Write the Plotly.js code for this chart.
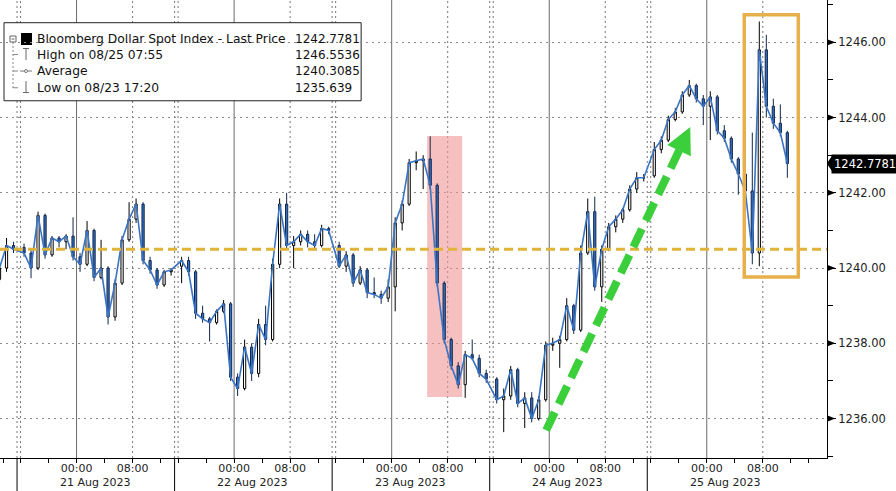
<!DOCTYPE html>
<html><head><meta charset="utf-8">
<script src="https://cdn.plot.ly/plotly-3.0.1.min.js"></script>
<style>html,body{margin:0;padding:0;background:#fff}#chart{width:896px;height:491px}</style>
</head><body><div id="chart"></div>
<script>
// ---------- DATA (hourly bars) ----------
var times = [
 '2023-08-20 11:30','2023-08-20 12:30','2023-08-20 13:30',
 '2023-08-20 16:30','2023-08-20 17:30','2023-08-20 18:30','2023-08-20 19:30','2023-08-20 20:30','2023-08-20 21:30','2023-08-20 22:30','2023-08-20 23:30',
 '2023-08-21 00:30','2023-08-21 01:30','2023-08-21 02:30','2023-08-21 03:30','2023-08-21 04:30','2023-08-21 05:30','2023-08-21 06:30','2023-08-21 07:30','2023-08-21 08:30','2023-08-21 09:30','2023-08-21 10:30','2023-08-21 11:30','2023-08-21 12:30','2023-08-21 13:30',
 '2023-08-21 16:30','2023-08-21 17:30','2023-08-21 18:30','2023-08-21 19:30','2023-08-21 20:30','2023-08-21 21:30','2023-08-21 22:30','2023-08-21 23:30',
 '2023-08-22 00:30','2023-08-22 01:30','2023-08-22 02:30','2023-08-22 03:30','2023-08-22 04:30','2023-08-22 05:30','2023-08-22 06:30','2023-08-22 07:30','2023-08-22 08:30','2023-08-22 09:30','2023-08-22 10:30','2023-08-22 11:30','2023-08-22 12:30','2023-08-22 13:30',
 '2023-08-22 16:30','2023-08-22 17:30','2023-08-22 18:30','2023-08-22 19:30','2023-08-22 20:30','2023-08-22 21:30','2023-08-22 22:30','2023-08-22 23:30',
 '2023-08-23 00:30','2023-08-23 01:30','2023-08-23 02:30','2023-08-23 03:30','2023-08-23 04:30','2023-08-23 05:30','2023-08-23 06:30','2023-08-23 07:30','2023-08-23 08:30','2023-08-23 09:30','2023-08-23 10:30','2023-08-23 11:30','2023-08-23 12:30','2023-08-23 13:30',
 '2023-08-23 16:30','2023-08-23 17:30','2023-08-23 18:30','2023-08-23 19:30','2023-08-23 20:30','2023-08-23 21:30','2023-08-23 22:30','2023-08-23 23:30',
 '2023-08-24 00:30','2023-08-24 01:30','2023-08-24 02:30','2023-08-24 03:30','2023-08-24 04:30','2023-08-24 05:30','2023-08-24 06:30','2023-08-24 07:30','2023-08-24 08:30','2023-08-24 09:30','2023-08-24 10:30','2023-08-24 11:30','2023-08-24 12:30','2023-08-24 13:30',
 '2023-08-24 16:30','2023-08-24 17:30','2023-08-24 18:30','2023-08-24 19:30','2023-08-24 20:30','2023-08-24 21:30','2023-08-24 22:30','2023-08-24 23:30',
 '2023-08-25 00:30','2023-08-25 01:30','2023-08-25 02:30','2023-08-25 03:30','2023-08-25 04:30','2023-08-25 05:30','2023-08-25 06:30','2023-08-25 07:30','2023-08-25 08:30','2023-08-25 09:30','2023-08-25 10:30','2023-08-25 11:30'
];
var opens = [
 1239.7,1240.0,1240.6,
 1240.55,1240.4,1240.0,1241.4,1240.35,1240.8,1240.7,1240.85,1240.3,1240.1,1241.0,1239.75,1240.0,1238.7,1239.6,1240.75,1241.3,1241.7,1240.2,1239.95,1239.55,1239.9,
 1240.05,1240.2,1239.9,1238.8,1238.65,1238.55,1238.85,1239.05,1237.1,1236.8,1237.9,1237.2,1238.5,1238.1,1240.1,1241.7,1240.6,1240.7,1240.9,1240.7,1240.6,1241.05,
 1240.6,1240.05,1240.35,1239.6,1239.95,1239.35,1239.3,1239.2,1239.5,1241.2,1241.7,1242.8,1242.85,1242.9,1242.2,1239.6,1238.1,1237.4,1236.9,1237.7,1237.6,1237.2,
 1237.05,1236.5,1236.6,1237.3,1236.4,1236.55,1236.0,1236.5,1237.95,1238.0,1238.1,1239.0,1238.35,1240.4,1241.5,1239.5,1240.5,1241.1,1241.3,1241.55,1242.1,1242.4,
 1242.45,1243.15,1243.4,1243.95,1244.15,1244.6,1244.85,1244.5,1244.3,1244.55,1243.65,1243.45,1242.9,1242.5,1242.05,1240.4,1245.8,1244.3,1243.85,1243.6
];
var highs = [
 1240.1,1240.8,1240.7,
 1240.65,1240.5,1241.5,1241.45,1240.85,1240.85,1240.9,1241.35,1240.4,1241.25,1241.05,1240.75,1240.05,1239.7,1240.85,1241.75,1241.85,1241.75,1240.3,1240.0,1239.95,1240.0,
 1240.3,1240.3,1239.95,1239.0,1238.7,1238.9,1239.15,1239.1,1237.2,1238.1,1238.0,1238.65,1239.0,1240.25,1241.85,1242.0,1240.85,1241.0,1241.0,1240.9,1241.15,1241.1,
 1240.7,1240.45,1240.4,1240.05,1240.0,1239.75,1239.4,1239.7,1241.35,1241.8,1242.9,1243.1,1243.0,1243.5,1242.25,1239.65,1238.15,1237.5,1237.8,1238.1,1237.7,1237.3,
 1237.1,1236.8,1237.4,1237.35,1236.7,1236.7,1236.6,1238.05,1238.15,1238.2,1239.2,1239.05,1240.6,1241.85,1241.9,1240.6,1241.2,1241.4,1241.6,1242.2,1242.55,1242.5,
 1243.35,1243.5,1244.05,1244.25,1244.7,1245.0,1244.9,1244.6,1244.7,1244.6,1243.8,1243.5,1242.95,1242.55,1243.6,1246.5536,1246.2,1244.5,1244.35,1243.65
];
var lows = [
 1239.6,1239.9,1240.4,
 1240.3,1239.73,1239.95,1240.25,1240.3,1240.55,1240.5,1240.2,1239.9,1240.05,1239.65,1239.7,1238.5,1238.6,1239.55,1240.7,1241.2,1240.1,1239.85,1239.45,1239.5,1239.8,
 1239.6,1239.8,1238.65,1238.55,1238.05,1238.5,1238.8,1237.0,1236.6,1236.75,1237.0,1237.1,1237.95,1238.05,1240.0,1240.5,1240.0,1240.6,1240.55,1240.5,1240.55,1240.9,
 1240.0,1239.9,1239.5,1239.55,1239.2,1239.2,1239.05,1239.1,1238.85,1241.0,1241.65,1242.6,1242.1,1242.1,1239.5,1238.0,1237.3,1236.8,1236.55,1237.55,1237.1,1236.95,
 1236.4,1235.639,1236.5,1236.3,1235.75,1235.9,1235.95,1236.45,1237.8,1237.35,1238.05,1238.25,1238.3,1240.35,1239.4,1239.1,1240.45,1240.95,1241.2,1241.5,1242.0,1242.3,
 1242.4,1243.05,1243.35,1243.9,1244.1,1244.55,1244.4,1243.8,1243.4,1243.55,1243.35,1242.8,1241.95,1241.75,1240.1,1240.05,1244.0,1243.7,1243.5,1242.4
];
var closes = [
 1240.0,1240.6,1240.5,
 1240.4,1240.0,1241.4,1240.35,1240.8,1240.7,1240.85,1240.3,1240.1,1241.0,1239.75,1240.0,1238.7,1239.6,1240.75,1241.3,1241.7,1240.2,1239.95,1239.55,1239.9,1239.95,
 1240.2,1239.9,1238.8,1238.65,1238.55,1238.85,1239.05,1237.1,1236.8,1237.9,1237.2,1238.5,1238.1,1240.1,1241.7,1240.6,1240.7,1240.9,1240.7,1240.6,1241.05,1241.0,
 1240.05,1240.35,1239.6,1239.95,1239.35,1239.3,1239.2,1239.5,1241.2,1241.7,1242.8,1242.85,1242.9,1242.2,1239.6,1238.1,1237.4,1236.9,1237.7,1237.6,1237.2,1237.05,
 1236.5,1236.6,1237.3,1236.4,1236.55,1236.0,1236.5,1237.95,1238.0,1238.1,1239.0,1238.35,1240.4,1241.5,1239.5,1240.5,1241.1,1241.3,1241.55,1242.1,1242.4,1242.4,
 1243.15,1243.4,1243.95,1244.15,1244.6,1244.85,1244.5,1244.3,1244.55,1243.65,1243.45,1242.9,1242.5,1242.05,1240.4,1245.8,1244.3,1243.85,1243.6,1242.7781
];
var dayDates   = ['2023-08-21','2023-08-22','2023-08-23','2023-08-24','2023-08-25'];
var dayLabels  = ['21 Aug 2023','22 Aug 2023','23 Aug 2023','24 Aug 2023','25 Aug 2023'];
var timeLabels = ['00:00','08:00'];
var sessionBreakDates = ['2023-08-20','2023-08-21','2023-08-22','2023-08-23','2023-08-24'];
var yTicks = [1236,1238,1240,1242,1244,1246];
var yTickText = ['1236.00','1238.00','1240.00','1242.00','1244.00','1246.00'];
var yMinor = [1235,1237,1239,1241,1243,1245,1247];
var legendLabels = ['Bloomberg Dollar Spot Index - Last Price','High on 08/25 07:55','Average','Low on 08/23 17:20'];
var legendValues = ['1242.7781','1246.5536','1240.3085','1235.639'];
var markedLevel = 1240.5;
var lastPrice = 1242.7781;

// ---------- geometry helpers (plot area in px) ----------
var PW = 826.7, PH = 457.7;
function px(x){ return x/PW; }
function py(y){ return 1 - y/PH; }
var FONT = 'DejaVu Sans';

var tickVals = [], tickText = [];
dayDates.forEach(function(d){ tickVals.push(d+' 00:00'); tickText.push(timeLabels[0]); tickVals.push(d+' 08:00'); tickText.push(timeLabels[1]); });

var shapes = [];
dayDates.forEach(function(d){
  shapes.push({type:'line',xref:'x',yref:'paper',x0:d+' 00:00',x1:d+' 00:00',y0:0,y1:1,layer:'between',line:{color:'#6a6a6a',width:1}});
  shapes.push({type:'line',xref:'x',yref:'paper',x0:d+' 08:00',x1:d+' 08:00',y0:0,y1:1,layer:'between',line:{color:'#777',width:1,dash:'2px,3px'}});
});
sessionBreakDates.forEach(function(d){
  ['14:00','16:00'].forEach(function(h){
    shapes.push({type:'line',xref:'x',yref:'paper',x0:d+' '+h,x1:d+' '+h,y0:0,y1:1,layer:'between',line:{color:'#777',width:1,dash:'2px,3px'}});
  });
  shapes.push({type:'line',xref:'x',yref:'paper',x0:d+' 14:00',x1:d+' 14:00',y0:0,y1:-34/PH,layer:'above',line:{color:'#000',width:1}});
});
shapes.push({type:'rect',xref:'x',yref:'y',x0:'2023-08-23 05:04',x1:'2023-08-23 10:04',y0:1236.57,y1:1243.51,layer:'between',fillcolor:'rgba(240,150,150,0.6)',line:{width:0}});
shapes.push({type:'rect',xref:'paper',yref:'paper',x0:px(4),x1:px(361),y0:py(100.7),y1:py(22.7),layer:'between',fillcolor:'#fff',line:{color:'#222',width:1}});
shapes.push({type:'rect',xref:'paper',yref:'paper',x0:px(10),x1:px(16),y0:py(42),y1:py(36),layer:'between',fillcolor:'#fff',line:{color:'#666',width:1}});
shapes.push({type:'line',xref:'paper',yref:'paper',x0:px(11.5),x1:px(14.5),y0:py(39),y1:py(39),layer:'between',line:{color:'#666',width:1}});
shapes.push({type:'rect',xref:'paper',yref:'paper',x0:px(21),x1:px(32),y0:py(45),y1:py(33),layer:'between',fillcolor:'#000',line:{width:0}});
shapes.push({type:'line',xref:'paper',yref:'paper',x0:px(13),x1:px(13),y0:py(42),y1:py(88),layer:'between',line:{color:'#888',width:1,dash:'2px,2px'}});
[54.5,71,87.7].forEach(function(y){
  shapes.push({type:'line',xref:'paper',yref:'paper',x0:px(13),x1:px(18),y0:py(y),y1:py(y),layer:'between',line:{color:'#888',width:1}});
});
shapes.push({type:'line',xref:'paper',yref:'paper',x0:px(23),x1:px(29),y0:py(48.5),y1:py(48.5),layer:'between',line:{color:'#666',width:1}});
shapes.push({type:'line',xref:'paper',yref:'paper',x0:px(26),x1:px(26),y0:py(48.5),y1:py(60),layer:'between',line:{color:'#666',width:1}});
shapes.push({type:'line',xref:'paper',yref:'paper',x0:px(20),x1:px(32),y0:py(71),y1:py(71),layer:'between',line:{color:'#777',width:1}});
shapes.push({type:'circle',xref:'paper',yref:'paper',x0:px(24.5),x1:px(27.5),y0:py(72.5),y1:py(69.5),layer:'between',fillcolor:'#fff',line:{color:'#777',width:1}});
shapes.push({type:'line',xref:'paper',yref:'paper',x0:px(26),x1:px(26),y0:py(81),y1:py(92.5),layer:'between',line:{color:'#666',width:1}});
shapes.push({type:'line',xref:'paper',yref:'paper',x0:px(23),x1:px(29),y0:py(92.5),y1:py(92.5),layer:'between',line:{color:'#666',width:1}});
yTicks.forEach(function(v){
  var dh = 3.2/37.6;
  shapes.push({type:'path',xref:'paper',yref:'y',path:'M '+px(826.7)+','+(v+dh)+' L '+px(835)+','+v+' L '+px(826.7)+','+(v-dh)+' Z',fillcolor:'#000',line:{width:0},layer:'above'});
});
shapes.push({type:'path',xref:'paper',yref:'y',path:'M '+px(826.5)+','+lastPrice+' L '+px(832)+','+(lastPrice+8/37.6)+' L '+px(832)+','+(lastPrice-8/37.6)+' Z',fillcolor:'#000',line:{width:0},layer:'above'});
shapes.push({type:'line',xref:'paper',yref:'y',x0:0,x1:1,y0:markedLevel,y1:markedLevel,layer:'above',line:{color:'#e0b43a',width:3,dash:'9px,5px'}});
shapes.push({type:'rect',xref:'x',yref:'y',x0:'2023-08-25 05:21',x1:'2023-08-25 13:04',y0:1239.76,y1:1246.73,layer:'above',line:{color:'#e8b04c',width:3.5}});
var tail=[546,430], tip=[690,127];
var dx=tip[0]-tail[0], dy=tip[1]-tail[1], L=Math.sqrt(dx*dx+dy*dy), ux=dx/L, uy=dy/L;
var base=[tip[0]-26*ux, tip[1]-26*uy], nx=-uy, ny=ux, hw=13;
shapes.push({type:'line',xref:'paper',yref:'paper',x0:px(tail[0]),y0:py(tail[1]),x1:px(base[0]+4*ux),y1:py(base[1]+4*uy),layer:'above',line:{color:'#3ccf3c',width:8,dash:'20px,9px'}});
shapes.push({type:'path',xref:'paper',yref:'paper',path:'M '+px(tip[0])+','+py(tip[1])+' L '+px(base[0]+hw*nx)+','+py(base[1]+hw*ny)+' L '+px(base[0]-hw*nx)+','+py(base[1]-hw*ny)+' Z',fillcolor:'#3ccf3c',line:{width:0},layer:'above'});

var annotations = [];
dayDates.forEach(function(d,i){
  annotations.push({xref:'x',yref:'paper',x:d+' 02:35',y:0,yanchor:'top',yshift:-17,borderpad:0,showarrow:false,text:dayLabels[i],font:{family:FONT,size:11,color:'#222'}});
});
var rowsY=[39.3,54.5,71,87.7];
legendLabels.forEach(function(t,i){
  annotations.push({xref:'paper',yref:'paper',x:px(35),y:py(rowsY[i]),xanchor:'left',yanchor:'middle',showarrow:false,text:t,font:{family:FONT,size:12.3,color:'#111'}});
  annotations.push({xref:'paper',yref:'paper',x:px(293),y:py(rowsY[i]),xanchor:'left',yanchor:'middle',showarrow:false,text:legendValues[i],font:{family:FONT,size:12,color:'#111'}});
});
annotations.push({xref:'paper',yref:'y',x:px(831),y:lastPrice,xanchor:'left',yanchor:'middle',showarrow:false,text:String(lastPrice),bgcolor:'#000',borderpad:2,font:{family:FONT,size:11.5,color:'#fff'}});

var lineTrace = {
  type:'scatter', mode:'lines', x:times, y:closes,
  line:{color:'#3a74c4', width:1.6}, hoverinfo:'skip', showlegend:false
};
var candles = {
  type:'candlestick', x:times, open:opens, high:highs, low:lows, close:closes,
  increasing:{fillcolor:'#ffffff', line:{color:'#000000', width:1}},
  decreasing:{fillcolor:'#3571c2', line:{color:'#10264d', width:1}},
  whiskerwidth:0, hoverinfo:'skip', showlegend:false
};

var layout = {
  width:896, height:491,
  margin:{l:0, r:896-PW, t:0, b:491-PH, pad:0},
  paper_bgcolor:'#fff', plot_bgcolor:'#fff',
  showlegend:false, boxgap:0.55,
  xaxis:{
    type:'date', range:['2023-08-20 11:34','2023-08-25 18:40'],
    rangebreaks:[{pattern:'hour', bounds:[14.25,15.75]}],
    rangeslider:{visible:false},
    tickmode:'array', tickvals:tickVals, ticktext:tickText,
    ticks:'outside', ticklen:4, tickcolor:'#000', tickwidth:1, ticklabelstandoff:-4,
    minor:{dtick:4*3600000, tick0:'2023-08-20 00:00', ticks:'outside', ticklen:4, tickcolor:'#000', showgrid:false},
    showgrid:false, zeroline:false, showline:true, linecolor:'#000', linewidth:1,
    tickfont:{family:FONT, size:11, color:'#222'}, fixedrange:true
  },
  yaxis:{
    side:'right', range:[1234.952,1247.125],
    tickmode:'array', tickvals:yTicks, ticktext:yTickText,
    ticks:'outside', ticklen:8, tickcolor:'#000', tickwidth:1,
    minor:{tickvals:yMinor, ticks:'outside', ticklen:5, tickcolor:'#000', showgrid:false},
    showgrid:true, gridcolor:'#8a8a8a', gridwidth:1, griddash:'2px,4px',
    zeroline:false, showline:true, linecolor:'#000', linewidth:1,
    tickfont:{family:FONT, size:11.5, color:'#222'}, fixedrange:true
  },
  shapes:shapes, annotations:annotations
};
Plotly.newPlot('chart',[lineTrace, candles],layout,{displayModeBar:false, staticPlot:true});
</script></body></html>
